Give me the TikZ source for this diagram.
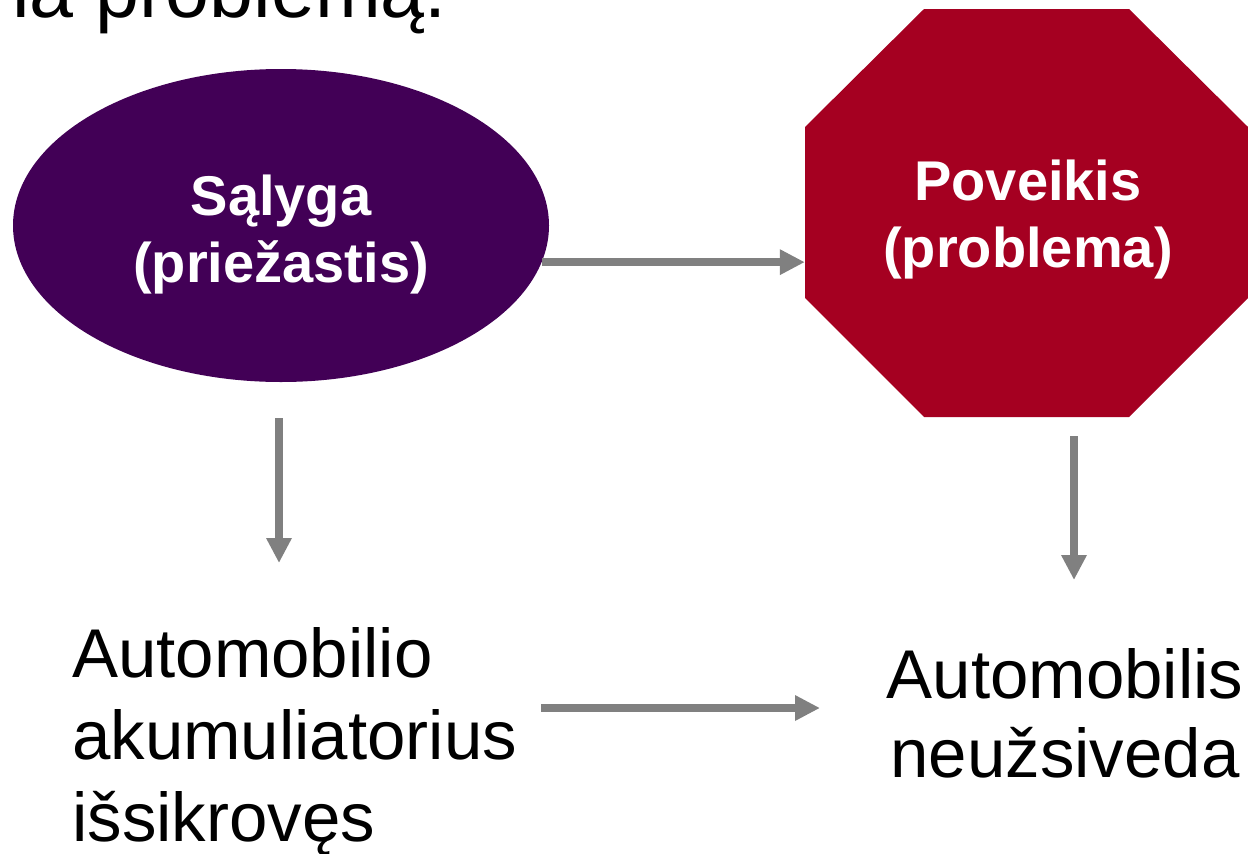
\documentclass[tikz,border=0pt]{standalone}
\usepackage{fontspec}
\setmainfont{Liberation Sans}
\usetikzlibrary{arrows.meta,shapes.geometric}
\definecolor{causepurple}{HTML}{420056}
\definecolor{effectred}{HTML}{A50021}
\definecolor{arrowgray}{HTML}{808080}
\begin{document}
\begin{tikzpicture}[x=1pt,y=-1pt,
  flow/.style={draw=arrowgray, line width=8pt, -{Triangle[length=25pt,width=24pt]}},
  boxtext/.style={inner sep=0pt, anchor=base, text=white,
    font=\fontsize{56}{67}\selectfont\bfseries},
  plaintext/.style={inner sep=0pt, text=black}]
\useasboundingbox (0,0) rectangle (1248,854);

% heading line, partly above the page edge
\node[plaintext, anchor=base west, font=\fontsize{79}{90}\selectfont] (intro) at (12,17) {ia problemą.};

% cause: ellipse
\node[ellipse, fill=causepurple, inner sep=0pt,
  minimum width=536pt, minimum height=313pt] (cond) at (281,225.5) {};
\node[boxtext] (condtext) at (281,215)
  {\begin{tabular}[t]{@{}c@{}}Sąlyga\\(priežastis)\end{tabular}};

% effect: octagon
\node[inner sep=0pt, minimum width=443pt, minimum height=408pt] (eff) at (1026.5,213) {};
\fill[effectred] (805,127) -- (924,9) -- (1129,9) -- (1248,127)
  -- (1248,298) -- (1129,417) -- (924,417) -- (805,298) -- cycle;
\node[boxtext] (efftext) at (1028,200)
  {\begin{tabular}[t]{@{}c@{}}Poveikis\\(problema)\end{tabular}};

% example texts
\node[plaintext, anchor=base west, font=\fontsize{69}{82}\selectfont] (cause) at (72,677)
  {\begin{tabular}[t]{@{}l@{}}Automobilio\\akumuliatorius\\išsikrovęs\end{tabular}};
\node[plaintext, anchor=base, font=\fontsize{69}{79}\selectfont] (result) at (1065,698)
  {\begin{tabular}[t]{@{}c@{}}Automobilis\\neužsiveda\end{tabular}};

% connectors
\draw[flow] (cond.-8.2) -- (cond.-8.2 -| eff.west);
\coordinate (condbelow) at (279,418);
\coordinate (causeabove) at (279,563);
\draw[flow] (condbelow) -- (causeabove);
\coordinate (effbelow) at (1074,436);
\coordinate (resultabove) at (1074,580);
\draw[flow] (effbelow) -- (resultabove);
\draw[flow] (cause.east |- 0,708) ++(24,0) coordinate (causeright) -- (820,708) coordinate (resultleft);
\end{tikzpicture}
\end{document}
